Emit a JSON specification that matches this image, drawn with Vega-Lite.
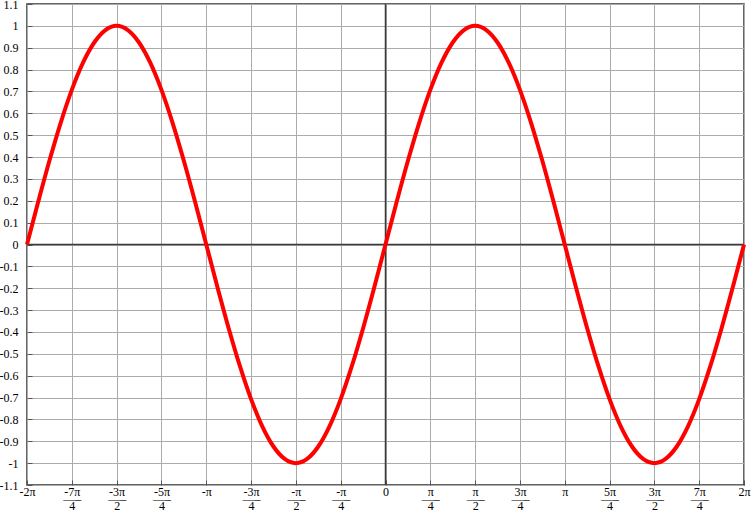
{
  "$schema": "https://vega.github.io/schema/vega-lite/v6.json",
  "width": 717,
  "height": 481,
  "autosize": {"type": "none"},
  "padding": {"left": 27, "top": 4, "right": 7, "bottom": 27},
  "background": "white",
  "config": {
    "view": {"stroke": "#333333", "strokeWidth": 1.5},
    "font": "Liberation Serif",
    "axis": {
      "labelFont": "Liberation Serif",
      "labelFontSize": 12,
      "labelColor": "#000000",
      "gridColor": "#ababab",
      "gridWidth": 1,
      "gridOpacity": 1,
      "domain": false,
      "ticks": true,
      "tickSize": -5,
      "tickColor": "#555555",
      "title": null,
      "labelFlush": false,
      "labelOverlap": false,
      "labelBound": false
    },
    "axisY": {"labelOverlap": false, "labelSeparation": 0}
  },
  "datasets": {
    "curve": [
      {"x": -6.2832, "y": 0},
      {"x": -6.0868, "y": 0.1951},
      {"x": -5.8905, "y": 0.3827},
      {"x": -5.6941, "y": 0.5556},
      {"x": -5.4978, "y": 0.7071},
      {"x": -5.3014, "y": 0.8315},
      {"x": -5.1051, "y": 0.9239},
      {"x": -4.9087, "y": 0.9808},
      {"x": -4.7124, "y": 1},
      {"x": -4.5160, "y": 0.9808},
      {"x": -4.3197, "y": 0.9239},
      {"x": -4.1233, "y": 0.8315},
      {"x": -3.9270, "y": 0.7071},
      {"x": -3.7306, "y": 0.5556},
      {"x": -3.5343, "y": 0.3827},
      {"x": -3.3379, "y": 0.1951},
      {"x": -3.1416, "y": 0},
      {"x": -2.9452, "y": -0.1951},
      {"x": -2.7489, "y": -0.3827},
      {"x": -2.5525, "y": -0.5556},
      {"x": -2.3562, "y": -0.7071},
      {"x": -2.1598, "y": -0.8315},
      {"x": -1.9635, "y": -0.9239},
      {"x": -1.7671, "y": -0.9808},
      {"x": -1.5708, "y": -1},
      {"x": -1.3744, "y": -0.9808},
      {"x": -1.1781, "y": -0.9239},
      {"x": -0.9817, "y": -0.8315},
      {"x": -0.7854, "y": -0.7071},
      {"x": -0.5890, "y": -0.5556},
      {"x": -0.3927, "y": -0.3827},
      {"x": -0.1963, "y": -0.1951},
      {"x": 0, "y": 0},
      {"x": 0.1963, "y": 0.1951},
      {"x": 0.3927, "y": 0.3827},
      {"x": 0.5890, "y": 0.5556},
      {"x": 0.7854, "y": 0.7071},
      {"x": 0.9817, "y": 0.8315},
      {"x": 1.1781, "y": 0.9239},
      {"x": 1.3744, "y": 0.9808},
      {"x": 1.5708, "y": 1},
      {"x": 1.7671, "y": 0.9808},
      {"x": 1.9635, "y": 0.9239},
      {"x": 2.1598, "y": 0.8315},
      {"x": 2.3562, "y": 0.7071},
      {"x": 2.5525, "y": 0.5556},
      {"x": 2.7489, "y": 0.3827},
      {"x": 2.9452, "y": 0.1951},
      {"x": 3.1416, "y": 0},
      {"x": 3.3379, "y": -0.1951},
      {"x": 3.5343, "y": -0.3827},
      {"x": 3.7306, "y": -0.5556},
      {"x": 3.9270, "y": -0.7071},
      {"x": 4.1233, "y": -0.8315},
      {"x": 4.3197, "y": -0.9239},
      {"x": 4.5160, "y": -0.9808},
      {"x": 4.7124, "y": -1},
      {"x": 4.9087, "y": -0.9808},
      {"x": 5.1051, "y": -0.9239},
      {"x": 5.3014, "y": -0.8315},
      {"x": 5.4978, "y": -0.7071},
      {"x": 5.6941, "y": -0.5556},
      {"x": 5.8905, "y": -0.3827},
      {"x": 6.0868, "y": -0.1951},
      {"x": 6.2832, "y": 0}
    ],
    "zerox": [{"x": 0}],
    "zeroy": [{"y": 0}]
  },
  "layer": [
    {
      "data": {"name": "zerox"},
      "mark": {"type": "rule", "color": "#3a3a3a", "strokeWidth": 1.5},
      "encoding": {
        "x": {
          "field": "x",
          "type": "quantitative",
          "scale": {"domain": [-6.283185307179586, 6.283185307179586], "nice": false, "zero": false},
          "axis": {
            "values": [-6.283185307179586, -5.497787143782138, -4.71238898038469, -3.9269908169872414, -3.141592653589793, -2.356194490192345, -1.5707963267948966, -0.7853981633974483, 0, 0.7853981633974483, 1.5707963267948966, 2.356194490192345, 3.141592653589793, 3.9269908169872414, 4.71238898038469, 5.497787143782138, 6.283185307179586],
            "labelExpr": "[['-2π'], ['-7π','—–','4'], ['-3π','—–','2'], ['-5π','—–','4'], ['-π'], ['-3π','—–','4'], ['-π','—–','2'], ['-π','—–','4'], ['0'], ['π','—–','4'], ['π','—–','2'], ['3π','—–','4'], ['π'], ['5π','—–','4'], ['3π','—–','2'], ['7π','—–','4'], ['2π']][round(datum.value*4/PI)+8]",
            "labelLineHeight": 7,
            "labelPadding": 6,
            "labelAlign": "center",
            "labelOverlap": false,
            "labelFlush": false
          }
        }
      }
    },
    {
      "data": {"name": "zeroy"},
      "mark": {"type": "rule", "color": "#3a3a3a", "strokeWidth": 1.5},
      "encoding": {
        "y": {
          "field": "y",
          "type": "quantitative",
          "scale": {"domain": [-1.1, 1.1], "nice": false, "zero": false},
          "axis": {
            "values": [-1.1, -1, -0.9, -0.8, -0.7, -0.6, -0.5, -0.4, -0.3, -0.2, -0.1, 0, 0.1, 0.2, 0.3, 0.4, 0.5, 0.6, 0.7, 0.8, 0.9, 1, 1.1],
            "labelExpr": "'' + datum.value",
            "labelPadding": 14,
            "labelOverlap": false,
            "labelSeparation": 0,
            "labelFlush": false,
            "labelBaseline": "middle"
          }
        }
      }
    },
    {
      "data": {"name": "curve"},
      "mark": {"type": "line", "color": "#ff0000", "strokeWidth": 4, "interpolate": "monotone", "clip": false},
      "encoding": {
        "x": {"field": "x", "type": "quantitative"},
        "y": {
          "field": "y",
          "type": "quantitative",
          "axis": {
            "values": [-1.1, -1, -0.9, -0.8, -0.7, -0.6, -0.5, -0.4, -0.3, -0.2, -0.1, 0, 0.1, 0.2, 0.3, 0.4, 0.5, 0.6, 0.7, 0.8, 0.9, 1, 1.1],
            "labelExpr": "'' + datum.value",
            "labelPadding": 14,
            "labelOverlap": false,
            "labelSeparation": 0,
            "labelFlush": false,
            "labelBaseline": "middle"
          }
        }
      }
    }
  ]
}
